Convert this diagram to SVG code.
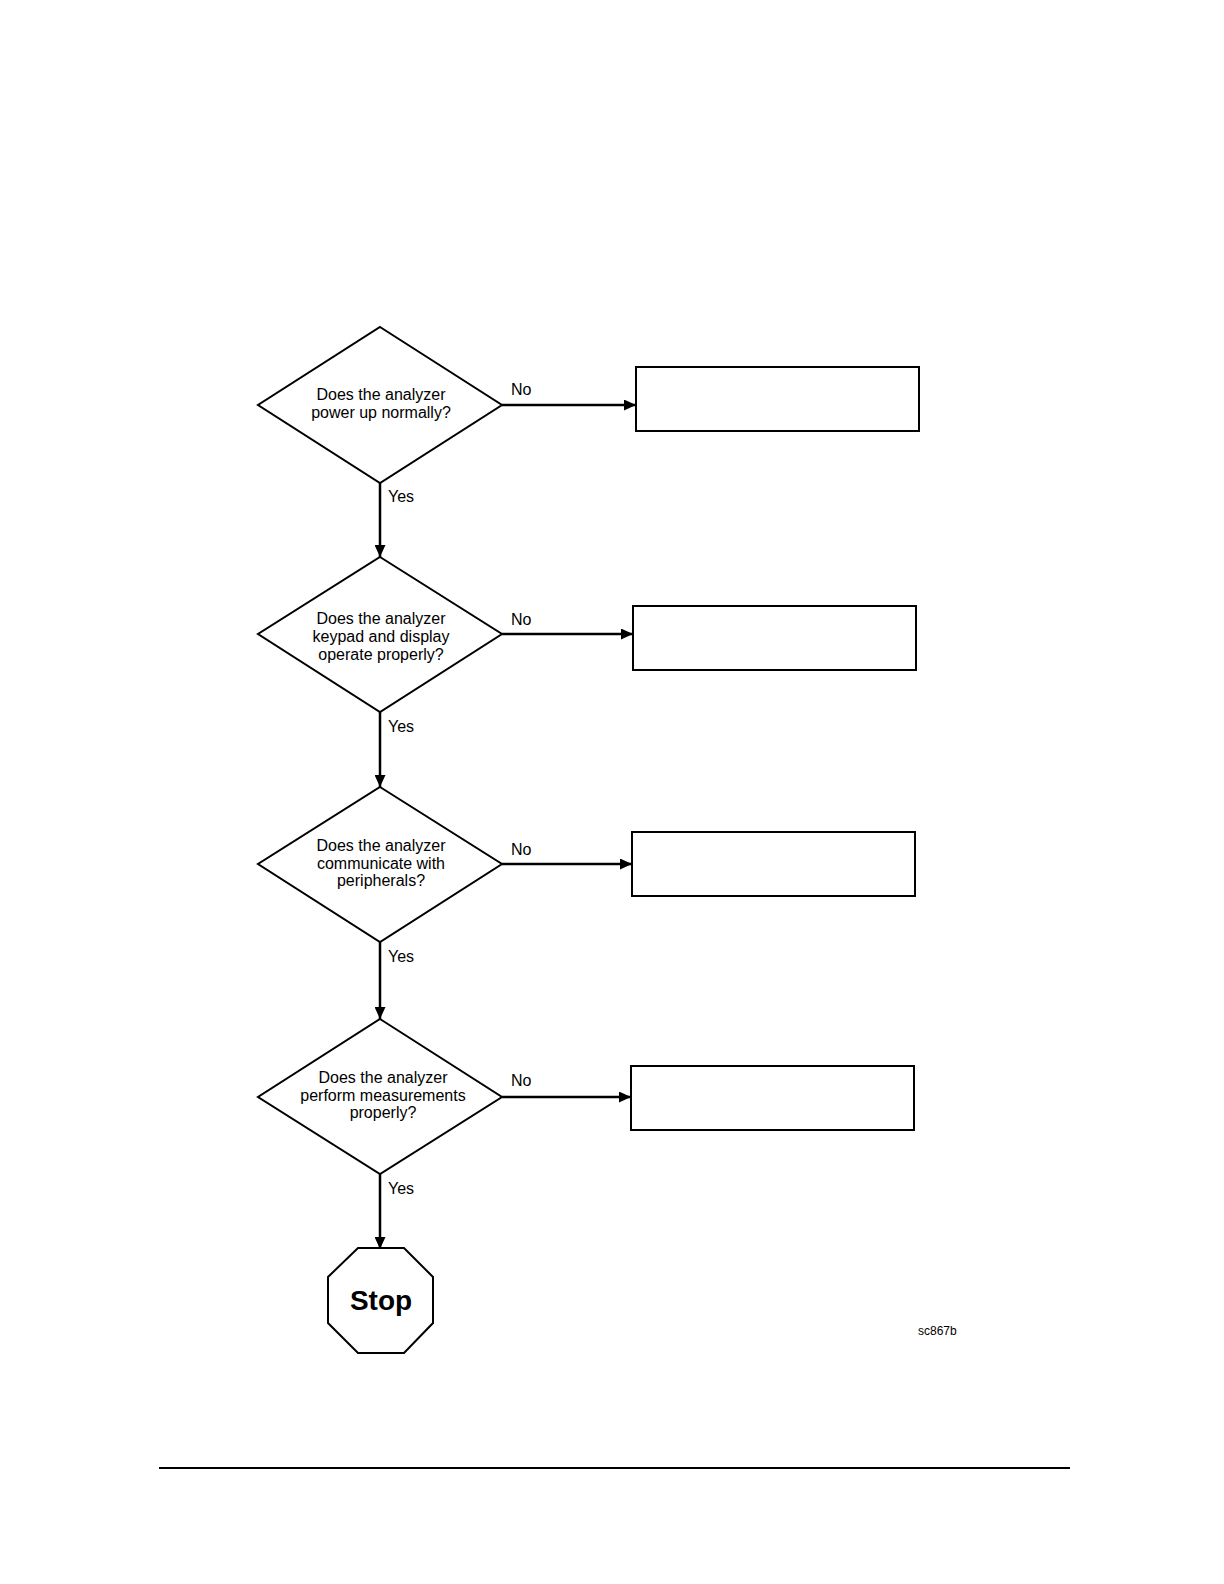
<svg xmlns="http://www.w3.org/2000/svg" width="1224" height="1584" viewBox="0 0 1224 1584">
<defs>
<marker id="ah" markerWidth="12" markerHeight="11" refX="12" refY="5.5" orient="auto" markerUnits="userSpaceOnUse">
<path d="M0,0 L12,5.5 L0,11 Z" fill="#000"/>
</marker>
<style>
.shape{fill:#fff;stroke:#000;stroke-width:2}
.t{font-family:"Liberation Sans",Arial,sans-serif;font-size:16px;fill:#000}
.c{text-anchor:middle}
.conn{stroke:#000;stroke-width:2.5;fill:none;marker-end:url(#ah)}
</style>
</defs>
<rect width="1224" height="1584" fill="#fff"/>
<g id="connectors">
<line class="conn" x1="502" y1="405" x2="636" y2="405"/>
<line class="conn" x1="502" y1="634" x2="633" y2="634"/>
<line class="conn" x1="502" y1="864" x2="632" y2="864"/>
<line class="conn" x1="502" y1="1097" x2="631" y2="1097"/>
<line class="conn" x1="380" y1="483" x2="380" y2="557"/>
<line class="conn" x1="380" y1="712" x2="380" y2="787"/>
<line class="conn" x1="380" y1="942" x2="380" y2="1019"/>
<line class="conn" x1="380" y1="1174" x2="380" y2="1249"/>
<text class="t" x="511" y="395">No</text>
<text class="t" x="511" y="625">No</text>
<text class="t" x="511" y="855">No</text>
<text class="t" x="511" y="1086">No</text>
<text class="t" x="388" y="502">Yes</text>
<text class="t" x="388" y="732">Yes</text>
<text class="t" x="388" y="962">Yes</text>
<text class="t" x="388" y="1194">Yes</text>
</g>
<g id="d1">
<polygon class="shape" points="380,327 502,405 380,483 258,405"/>
<text class="t c" x="381" y="400">Does the analyzer</text>
<text class="t c" x="381" y="418">power up normally?</text>
</g>
<g id="d2">
<polygon class="shape" points="380,557 502,634 380,712 258,634"/>
<text class="t c" x="381" y="624">Does the analyzer</text>
<text class="t c" x="381" y="642">keypad and display</text>
<text class="t c" x="381" y="660">operate properly?</text>
</g>
<g id="d3">
<polygon class="shape" points="380,787 502,864 380,942 258,864"/>
<text class="t c" x="381" y="851">Does the analyzer</text>
<text class="t c" x="381" y="869">communicate with</text>
<text class="t c" x="381" y="886">peripherals?</text>
</g>
<g id="d4">
<polygon class="shape" points="380,1019 502,1097 380,1174 258,1097"/>
<text class="t c" x="383" y="1083">Does the analyzer</text>
<text class="t c" x="383" y="1101">perform measurements</text>
<text class="t c" x="383" y="1118">properly?</text>
</g>
<g id="b1"><rect class="shape" x="636" y="367" width="283" height="64"/></g>
<g id="b2"><rect class="shape" x="633" y="606" width="283" height="64"/></g>
<g id="b3"><rect class="shape" x="632" y="832" width="283" height="64"/></g>
<g id="b4"><rect class="shape" x="631" y="1066" width="283" height="64"/></g>
<g id="stop">
<polygon class="shape" points="358,1248 404,1248 433,1277 433,1323 404,1353 358,1353 328,1323 328,1277"/>
<text x="381" y="1310" text-anchor="middle" font-family="'Liberation Sans',Arial,sans-serif" font-size="28" font-weight="bold">Stop</text>
</g>
<text x="918" y="1335" font-family="'Liberation Sans',Arial,sans-serif" font-size="12">sc867b</text>
<line x1="159" y1="1468" x2="1070" y2="1468" stroke="#000" stroke-width="2"/>
</svg>
